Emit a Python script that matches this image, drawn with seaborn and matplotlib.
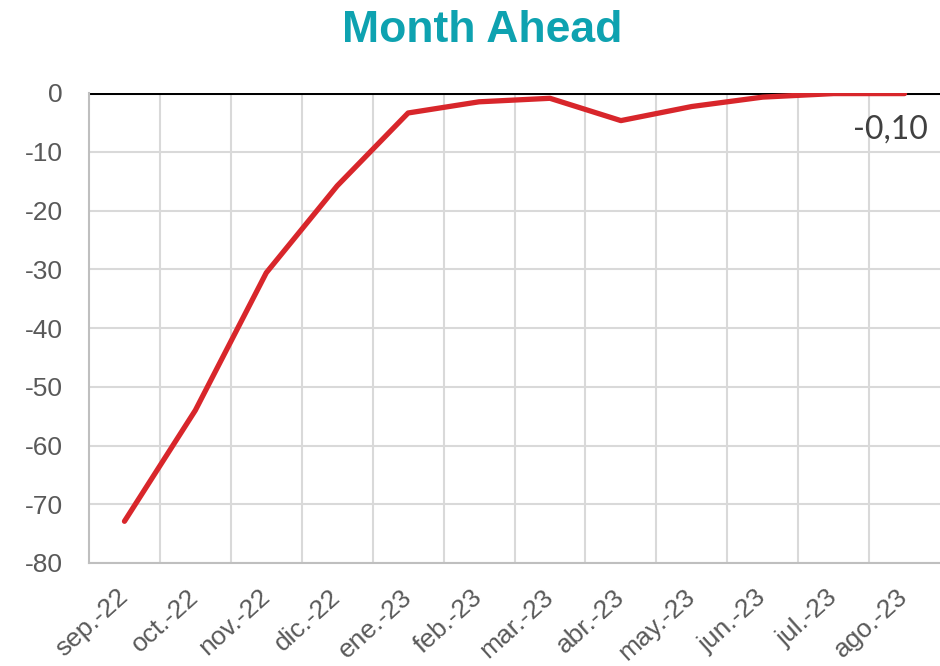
import pandas as pd
import seaborn as sns
import matplotlib.pyplot as plt
from matplotlib.ticker import FixedLocator

# datos del gráfico
meses = ['sep.-22', 'oct.-22', 'nov.-22', 'dic.-22', 'ene.-23', 'feb.-23',
         'mar.-23', 'abr.-23', 'may.-23', 'jun.-23', 'jul.-23', 'ago.-23']
valores = [-72.9, -54.0, -30.6, -15.8, -3.4, -1.5, -0.9, -4.7, -2.3, -0.7, -0.1, -0.10]
etiqueta_final = '-0,10'

df = pd.DataFrame({'idx': range(len(meses)), 'mes': meses, 'valor': valores})

sns.set_style('white')
plt.rcParams['font.family'] = ['Liberation Sans', 'DejaVu Sans']

fig = plt.figure(figsize=(9.4, 6.66), dpi=100)
ax = fig.add_axes([89 / 940, 1 - 563 / 666, 1 - 89 / 940, (563 - 93) / 666])

# rejilla
for y in range(-80, 1, 10):
    ax.axhline(y, color='#d9d9d9', lw=1.5, zorder=0)
for k in range(1, len(meses)):
    ax.axvline(k - 0.5, color='#d9d9d9', lw=1.5, zorder=0)
ax.axhline(0, color='black', lw=2.2, zorder=1)

sns.lineplot(data=df, x='idx', y='valor', color='#d8262b', lw=3.8,
             ax=ax, zorder=3, solid_capstyle='round')

ax.set_xlim(-0.5, len(meses) - 0.5)
ax.set_ylim(-80, 0)
ax.xaxis.set_major_locator(FixedLocator(list(df['idx'])))
ax.set_xticklabels(meses, rotation=42, ha='right', va='center',
                   rotation_mode='anchor', fontsize=19, color='#595959')
ax.set_yticks(range(-80, 1, 10))
ax.set_yticklabels([str(v) for v in range(-80, 1, 10)], fontsize=19, color='#595959')
ax.tick_params(axis='x', length=0, pad=22)
ax.tick_params(axis='y', length=0, pad=19)
ax.set_xlabel('')
ax.set_ylabel('')

for s in ['top', 'right']:
    ax.spines[s].set_visible(False)
for s in ['left', 'bottom']:
    ax.spines[s].set_color('#bfbfbf')
    ax.spines[s].set_linewidth(1.5)

# etiqueta del último valor
ax.annotate(etiqueta_final, xy=(df['idx'].iloc[-1], valores[-1]),
            xytext=(-10, -26), textcoords='offset points',
            ha='center', va='center', fontsize=23, color='#404040',
            family=['Lato', 'DejaVu Sans'])

fig.text(482 / 940, 1 - 30 / 666, 'Month Ahead', ha='center', va='center',
         fontsize=32, fontweight='bold', color='#0ea2b0')

fig.savefig('out.png', dpi=100)
